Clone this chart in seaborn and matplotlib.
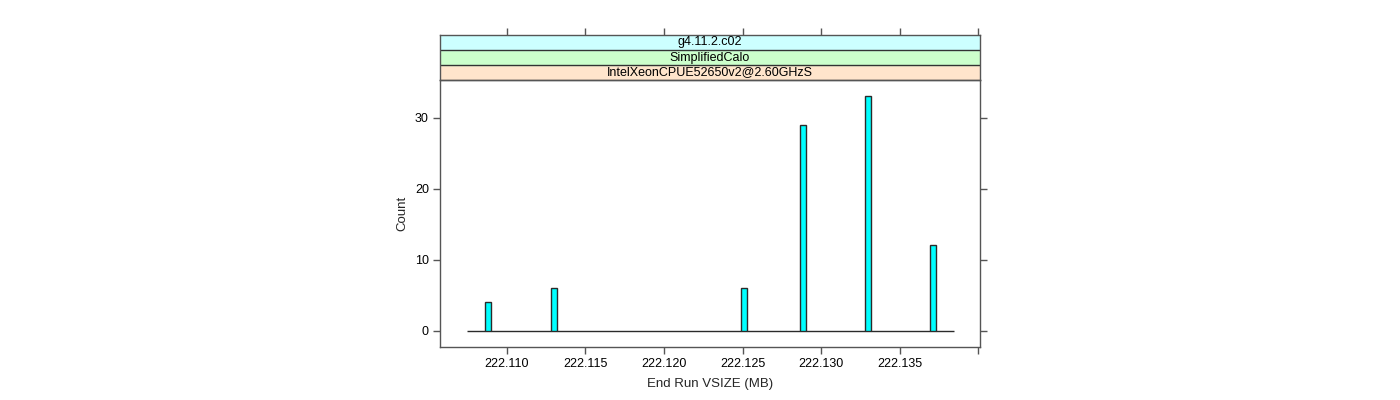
import numpy as np
import pandas as pd
import matplotlib
matplotlib.use("Agg")
import matplotlib.pyplot as plt
import seaborn as sns

# ---- data ----
vsize = [222.10881, 222.11302, 222.12508, 222.12884, 222.13299, 222.13713]
counts = [4, 6, 6, 29, 33, 12]
range_start = 222.10747   # histogram range (baseline) start
range_end = 222.13847     # histogram range (baseline) end
bar_width = 0.00038
strip_labels = ["IntelXeonCPUE52650v2@2.60GHzS", "SimplifiedCalo", "g4.11.2.c02"]
strip_colors = ["#ffe5cc", "#ccffcc", "#ccffff"]
x_ticks = [222.110, 222.115, 222.120, 222.125, 222.130, 222.135, 222.140]
x_ticklabels = ["222.110", "222.115", "222.120", "222.125", "222.130", "222.135", ""]
y_ticks = [0, 10, 20, 30]

sns.set_style("white")
plt.rcParams["font.family"] = ["Liberation Sans", "DejaVu Sans"]

df = pd.DataFrame({"vsize": vsize, "count": counts})
edges = [range_start]
for v in vsize:
    edges += [v - bar_width / 2, v + bar_width / 2]
edges.append(range_end)

W, H = 1400, 400
fig = plt.figure(figsize=(14, 4), dpi=100)
L, R = 440 / W, 980 / W
pb, pt = (H - 347) / H, (H - 80) / H
ax = fig.add_axes([L, pb, R - L, pt - pb])
axs = fig.add_axes([L, pt, R - L, (80 - 35) / H], sharex=ax)

sns.histplot(data=df, x="vsize", weights="count", bins=edges, ax=ax,
             color="#00ffff", alpha=1, edgecolor="#2a2a2a", linewidth=1.0)

xlim = (222.10575, 222.14010)
ax.set_xlim(*xlim)
ax.set_ylim(-2.31, 35.31)
ax.set_xticks(x_ticks)
ax.set_xticklabels(x_ticklabels)
ax.set_yticks(y_ticks)
ax.tick_params(axis="both", direction="out", length=5, width=1, color="#555555",
               labelsize=9, pad=3, labelcolor="black")
ax.tick_params(axis="y", right=True, labelright=False, left=True)
ax.tick_params(axis="x", bottom=True, top=False)
ax.set_xlabel("End Run VSIZE (MB)", fontsize=9.5, labelpad=6)
ax.set_ylabel("Count", fontsize=9.5, labelpad=5)
for s in ax.spines.values():
    s.set_color("#555555")
    s.set_linewidth(1)
    s.set_visible(True)

# strips
axs.set_ylim(0, 3)
for i, (lab, col) in enumerate(zip(strip_labels, strip_colors)):
    axs.axhspan(i, i + 1, color=col, zorder=0)
    axs.axhline(i, color="#333333", linewidth=1, zorder=1)
    axs.text(np.mean(xlim), i + 0.5, lab, ha="center", va="center",
             fontsize=9, color="black")
axs.set_yticks([])
axs.tick_params(axis="x", bottom=False, top=True, labelbottom=False,
                labeltop=False, direction="out", length=5, width=1,
                color="#555555")
for s in axs.spines.values():
    s.set_color("#555555")
    s.set_linewidth(1)
    s.set_visible(True)

fig.savefig("out.png", dpi=100, facecolor="white")
